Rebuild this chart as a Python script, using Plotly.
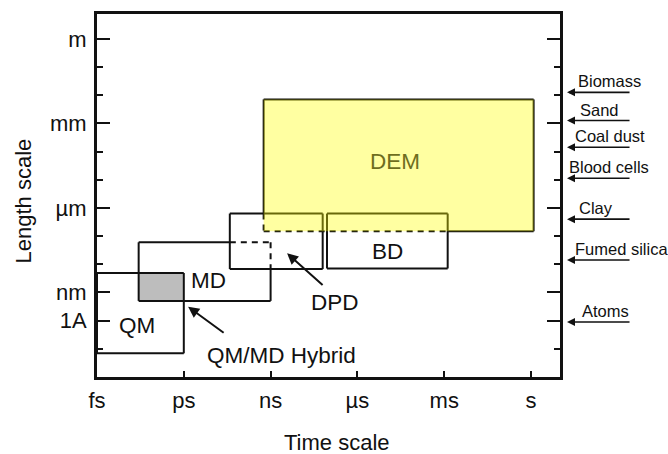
import plotly.graph_objects as go

# Time axis: one unit per factor of 1000 (fs .. s)
time_labels = ["fs", "ps", "ns", "\u00b5s", "ms", "s"]
time_vals = [0, 1, 2, 3, 4, 5]

# Length axis: log10 of length in metres
length_labels = ["m", "mm", "\u00b5m", "nm", "1A"]
length_vals = [0, -3, -6, -9, -10]

# Simulation methods: time span and length span (log10 m)
models = ["QM", "MD", "DPD", "BD", "DEM"]
t_start = [0.0, 0.48, 1.53, 2.65, 1.92]
t_end = [1.0, 2.0, 2.60, 4.04, 5.03]
len_low = [-11.16, -9.30, -8.17, -8.15, -6.83]
len_high = [-8.31, -7.22, -6.20, -6.20, -2.15]

# Label positions inside the diagram
label_t = [0.46, 1.28, 2.74, 3.35, 3.43]
label_len = [-10.18, -8.59, -9.37, -7.54, -4.37]

# Typical particle sizes (log10 m)
materials = ["Biomass", "Sand", "Coal dust", "Blood cells", "Clay", "Fumed silica", "Atoms"]
material_len = [-1.9, -2.9, -3.85, -4.95, -6.4, -7.85, -10.05]
material_text_dx = [9, 11, 6, 0, 10, 6, 13]

box = {m: dict(x0=a, x1=b, y0=lo, y1=hi)
       for m, a, b, lo, hi in zip(models, t_start, t_end, len_low, len_high)}

FONT = "Arial, Liberation Sans, sans-serif"
INK = "#111111"
W, H = 668, 454
ML, MR, MT, MB = 97, 108, 11, 77
pw, ph = W - ML - MR, H - MT - MB
X_RANGE = [0, 5.334]
Y_RANGE = [-12.0, 0.88]

shapes = []


def seg(x0, y0, x1, y1, dash="solid"):
    shapes.append(dict(type="line", xref="x", yref="y", x0=x0, y0=y0, x1=x1, y1=y1,
                       line=dict(color=INK, width=2, dash=dash), layer="above"))


DASH = "6px,5px"

# QM/MD overlap (hybrid region)
qm, md, dpd, bd, dem = (box[m] for m in models)
shapes.append(dict(type="rect", xref="x", yref="y",
                   x0=max(qm["x0"], md["x0"]), x1=min(qm["x1"], md["x1"]),
                   y0=max(qm["y0"], md["y0"]), y1=min(qm["y1"], md["y1"]),
                   fillcolor="#bdbdbd", line=dict(width=0), layer="above"))

# QM, DPD, BD: plain outlines
for b in (qm, dpd, bd):
    seg(b["x0"], b["y0"], b["x1"], b["y0"])
    seg(b["x0"], b["y1"], b["x1"], b["y1"])
    seg(b["x0"], b["y0"], b["x0"], b["y1"])
    seg(b["x1"], b["y0"], b["x1"], b["y1"])

# MD: edges hidden behind DPD are dashed
seg(md["x0"], md["y0"], md["x1"], md["y0"])
seg(md["x0"], md["y0"], md["x0"], md["y1"])
seg(md["x0"], md["y1"], dpd["x0"], md["y1"])
seg(dpd["x0"], md["y1"], md["x1"], md["y1"], DASH)
seg(md["x1"], md["y1"], md["x1"], dpd["y0"], DASH)
seg(md["x1"], dpd["y0"], md["x1"], md["y0"])

# DEM: edges running through DPD / BD are dashed
seg(dem["x0"], dem["y1"], dem["x1"], dem["y1"])
seg(dem["x1"], dem["y0"], dem["x1"], dem["y1"])
seg(dem["x0"], dem["y1"], dem["x0"], dpd["y1"])
seg(dem["x0"], dpd["y1"], dem["x0"], dem["y0"], DASH)
seg(dem["x0"], dem["y0"], bd["x1"], dem["y0"], DASH)
seg(bd["x1"], dem["y0"], dem["x1"], dem["y0"])

# translucent yellow DEM region on top
shapes.append(dict(type="rect", xref="x", yref="y",
                   x0=dem["x0"], x1=dem["x1"], y0=dem["y0"], y1=dem["y1"],
                   fillcolor="rgba(255,255,0,0.37)", line=dict(width=0), layer="above"))

annotations = []
for m, lx, ly in zip(models, label_t, label_len):
    annotations.append(dict(x=lx, y=ly, xref="x", yref="y", text=m, showarrow=False,
                            font=dict(family=FONT, size=22.5,
                                      color="#6e6e1e" if m == "DEM" else INK)))

# pointer labels
annotations.append(dict(x=1.05, y=-9.51, xref="x", yref="y", ax=37, ay=27,
                        text="", showarrow=True, arrowhead=2, arrowsize=1.1,
                        arrowwidth=2, arrowcolor=INK))
annotations.append(dict(x=2.12, y=-11.23, xref="x", yref="y", text="QM/MD Hybrid",
                        showarrow=False, font=dict(family=FONT, size=22.5, color=INK)))
annotations.append(dict(x=2.19, y=-7.61, xref="x", yref="y", ax=37, ay=33,
                        text="", showarrow=True, arrowhead=2, arrowsize=1.1,
                        arrowwidth=2, arrowcolor=INK))


def paper_x(v):
    return (v - X_RANGE[0]) / (X_RANGE[1] - X_RANGE[0])


def paper_y(v):
    return (v - Y_RANGE[0]) / (Y_RANGE[1] - Y_RANGE[0])


# material sizes on the right (outside the plot area, so paper x)
x_head = paper_x(5.415)
for name, lv, dx in zip(materials, material_len, material_text_dx):
    annotations.append(dict(x=x_head, y=paper_y(lv), xref="paper", yref="paper",
                            ax=64, ay=0, text="", showarrow=True, arrowhead=2,
                            arrowsize=1.0, arrowwidth=1.6, arrowcolor=INK))
    annotations.append(dict(x=x_head, y=paper_y(lv), xref="paper", yref="paper",
                            text=name, showarrow=False, xanchor="left", yanchor="middle",
                            xshift=dx, yshift=11,
                            font=dict(family=FONT, size=16.5, color=INK)))

# axis titles, placed by pixel position
annotations.append(dict(x=(337 - ML) / pw, y=(H - MB - 443) / ph, xref="paper",
                        yref="paper", xanchor="center", yanchor="middle",
                        text="Time scale", showarrow=False,
                        font=dict(family=FONT, size=22, color=INK)))
annotations.append(dict(x=(23 - ML) / pw, y=(H - MB - 200) / ph, xref="paper",
                        yref="paper", xanchor="center", yanchor="middle",
                        text="Length scale", textangle=-90, showarrow=False,
                        font=dict(family=FONT, size=22, color=INK)))

fig = go.Figure(go.Scatter(x=[None], y=[None], showlegend=False))
fig.update_layout(
    width=W, height=H,
    margin=dict(l=ML, r=MR, t=MT, b=MB),
    paper_bgcolor="white", plot_bgcolor="white",
    showlegend=False,
    shapes=shapes, annotations=annotations,
    xaxis=dict(range=X_RANGE, tickvals=time_vals, ticktext=time_labels,
               ticks="inside", ticklen=6, tickwidth=2, tickcolor=INK,
               showline=True, linewidth=3, linecolor=INK, mirror=True,
               showgrid=False, zeroline=False, ticklabelstandoff=2,
               tickfont=dict(family=FONT, size=22, color=INK)),
    yaxis=dict(range=Y_RANGE, tickvals=length_vals, ticktext=length_labels,
               ticks="inside", ticklen=13, tickwidth=2, tickcolor=INK,
               minor=dict(dtick=1, tick0=0, ticks="inside", ticklen=6,
                          tickwidth=2, tickcolor=INK),
               showline=True, linewidth=3, linecolor=INK, mirror="ticks",
               showgrid=False, zeroline=False, ticklabelstandoff=3,
               tickfont=dict(family=FONT, size=22, color=INK)),
)

fig.write_html("out.html")
